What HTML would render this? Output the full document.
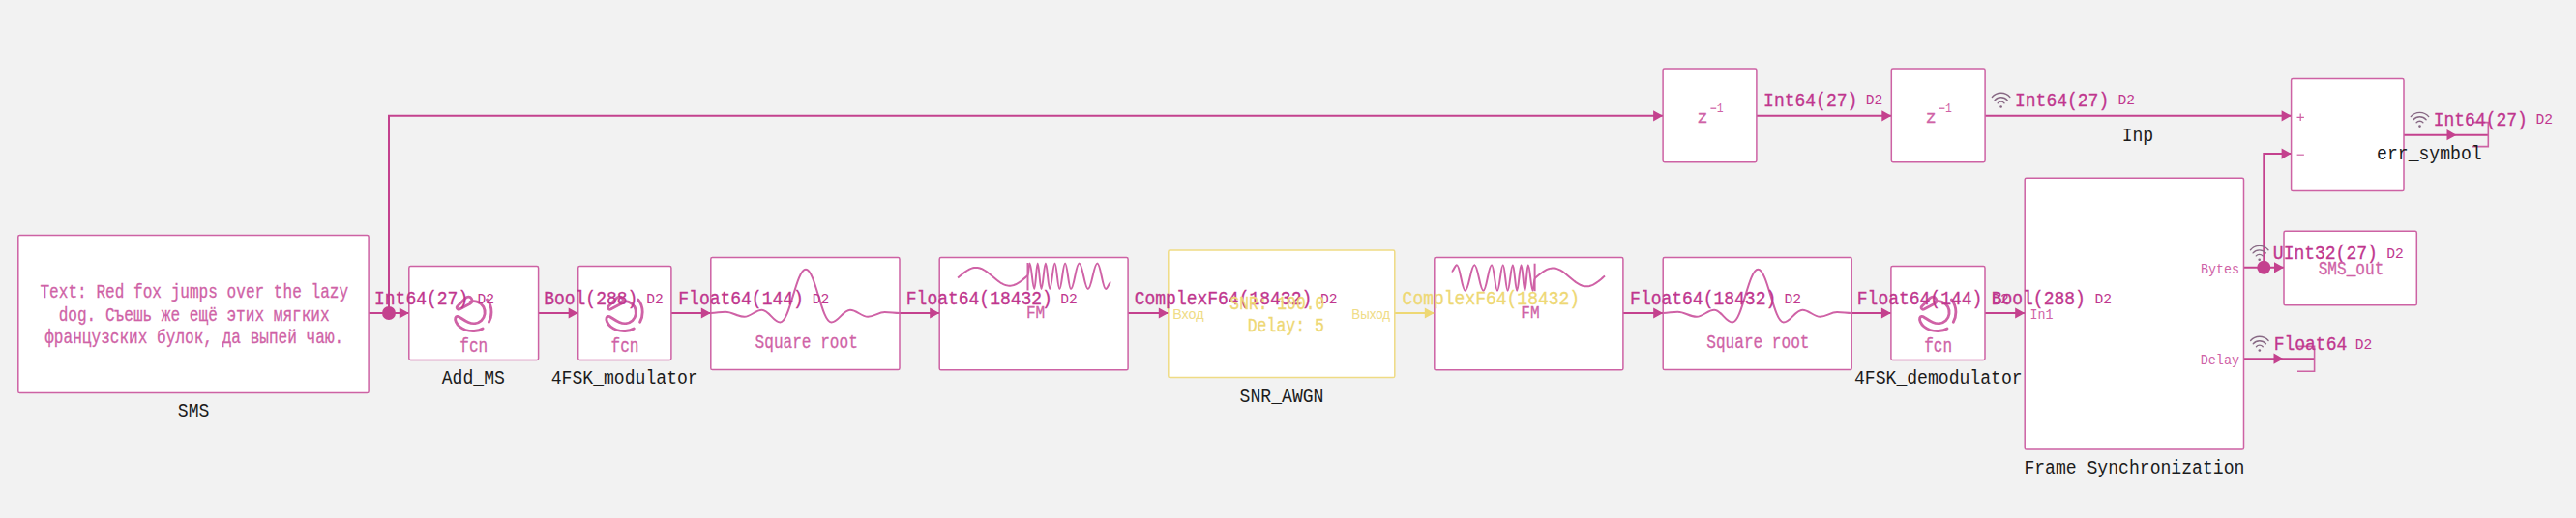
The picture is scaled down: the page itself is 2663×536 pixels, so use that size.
<!DOCTYPE html>
<html><head><meta charset="utf-8"><style>
html,body{margin:0;padding:0;background:#f2f2f2;overflow:hidden;}
svg{display:block;}
text{white-space:pre;}
</style></head><body>
<svg width="2663" height="536" viewBox="0 0 2663 536">
<rect x="0" y="0" width="2663" height="536" fill="#f2f2f2"/>
<path d="M381.00,324.00 L422.80,324.00" fill="none" stroke="#c4418e" stroke-width="2.0"/>
<path d="M556.60,324.00 L597.70,324.00" fill="none" stroke="#c4418e" stroke-width="2.0"/>
<path d="M693.90,324.00 L734.80,324.00" fill="none" stroke="#c4418e" stroke-width="2.0"/>
<path d="M930.00,324.00 L971.20,324.00" fill="none" stroke="#c4418e" stroke-width="2.0"/>
<path d="M1166.10,324.00 L1207.80,324.00" fill="none" stroke="#c4418e" stroke-width="2.0"/>
<path d="M1677.90,324.00 L1719.20,324.00" fill="none" stroke="#c4418e" stroke-width="2.0"/>
<path d="M1914.20,324.00 L1954.90,324.00" fill="none" stroke="#c4418e" stroke-width="2.0"/>
<path d="M2052.00,324.00 L2093.20,324.00" fill="none" stroke="#c4418e" stroke-width="2.0"/>
<path d="M1441.80,324.00 L1482.80,324.00" fill="none" stroke="#eed874" stroke-width="2.0"/>
<path d="M402.00,324.00 L402.00,119.80 L1719.10,119.80" fill="none" stroke="#c4418e" stroke-width="2.0"/>
<path d="M1815.90,119.80 L1955.30,119.80" fill="none" stroke="#c4418e" stroke-width="2.0"/>
<path d="M2052.10,119.80 L2368.60,119.80" fill="none" stroke="#c4418e" stroke-width="2.0"/>
<path d="M2319.50,276.80 L2361.00,276.80" fill="none" stroke="#c4418e" stroke-width="2.0"/>
<path d="M2340.30,276.80 L2340.30,159.10 L2368.60,159.10" fill="none" stroke="#c4418e" stroke-width="2.0"/>
<path d="M2319.50,371.20 L2392.60,371.20" fill="none" stroke="#c4418e" stroke-width="2.0"/>
<path d="M2375.00,358.40 L2392.60,358.40 L2392.60,384.30 L2375.00,384.30" fill="none" stroke="#cd62a4" stroke-width="1.6"/>
<path d="M2485.00,139.70 L2572.60,139.70" fill="none" stroke="#c4418e" stroke-width="2.0"/>
<path d="M2557.00,126.60 L2572.30,126.60 L2572.30,151.60 L2555.00,151.60" fill="none" stroke="#cd62a4" stroke-width="1.6"/>
<rect x="18.80" y="243.40" width="362.30" height="163.10" rx="1.6" fill="#ffffff" stroke="#cd62a4" stroke-width="1.5"/>
<rect x="422.80" y="275.60" width="133.80" height="96.80" rx="1.6" fill="#ffffff" stroke="#cd62a4" stroke-width="1.5"/>
<rect x="597.70" y="275.60" width="96.20" height="96.80" rx="1.6" fill="#ffffff" stroke="#cd62a4" stroke-width="1.5"/>
<rect x="734.80" y="266.60" width="195.20" height="116.00" rx="1.6" fill="#ffffff" stroke="#cd62a4" stroke-width="1.5"/>
<rect x="971.20" y="266.60" width="194.90" height="116.20" rx="1.6" fill="#ffffff" stroke="#cd62a4" stroke-width="1.5"/>
<rect x="1207.80" y="259.10" width="234.00" height="131.40" rx="1.6" fill="#ffffff" stroke="#efdb84" stroke-width="1.5"/>
<rect x="1482.80" y="266.60" width="195.10" height="116.20" rx="1.6" fill="#ffffff" stroke="#cd62a4" stroke-width="1.5"/>
<rect x="1719.20" y="266.60" width="195.00" height="116.00" rx="1.6" fill="#ffffff" stroke="#cd62a4" stroke-width="1.5"/>
<rect x="1954.90" y="275.60" width="97.10" height="96.80" rx="1.6" fill="#ffffff" stroke="#cd62a4" stroke-width="1.5"/>
<rect x="2093.20" y="184.20" width="226.30" height="280.80" rx="1.6" fill="#ffffff" stroke="#cd62a4" stroke-width="1.5"/>
<rect x="1719.10" y="71.00" width="96.80" height="96.70" rx="1.6" fill="#ffffff" stroke="#cd62a4" stroke-width="1.5"/>
<rect x="1955.30" y="71.00" width="96.80" height="96.70" rx="1.6" fill="#ffffff" stroke="#cd62a4" stroke-width="1.5"/>
<rect x="2368.60" y="81.60" width="116.40" height="116.00" rx="1.6" fill="#ffffff" stroke="#cd62a4" stroke-width="1.5"/>
<rect x="2361.00" y="239.30" width="137.30" height="76.50" rx="1.6" fill="#ffffff" stroke="#cd62a4" stroke-width="1.5"/>
<path d="M422.80,324.00 L412.80,318.40 L412.80,329.60 Z" fill="#c4418e"/>
<path d="M597.70,324.00 L587.70,318.40 L587.70,329.60 Z" fill="#c4418e"/>
<path d="M734.80,324.00 L724.80,318.40 L724.80,329.60 Z" fill="#c4418e"/>
<path d="M971.20,324.00 L961.20,318.40 L961.20,329.60 Z" fill="#c4418e"/>
<path d="M1207.80,324.00 L1197.80,318.40 L1197.80,329.60 Z" fill="#c4418e"/>
<path d="M1719.20,324.00 L1709.20,318.40 L1709.20,329.60 Z" fill="#c4418e"/>
<path d="M1954.90,324.00 L1944.90,318.40 L1944.90,329.60 Z" fill="#c4418e"/>
<path d="M2093.20,324.00 L2083.20,318.40 L2083.20,329.60 Z" fill="#c4418e"/>
<path d="M1482.80,324.00 L1472.80,318.40 L1472.80,329.60 Z" fill="#eed874"/>
<path d="M1719.10,119.80 L1709.10,114.20 L1709.10,125.40 Z" fill="#c4418e"/>
<path d="M1955.30,119.80 L1945.30,114.20 L1945.30,125.40 Z" fill="#c4418e"/>
<path d="M2368.60,119.80 L2358.60,114.20 L2358.60,125.40 Z" fill="#c4418e"/>
<path d="M2361.00,276.80 L2351.00,271.20 L2351.00,282.40 Z" fill="#c4418e"/>
<path d="M2368.60,159.10 L2358.60,153.50 L2358.60,164.70 Z" fill="#c4418e"/>
<path d="M2360.50,371.20 L2350.50,365.60 L2350.50,376.80 Z" fill="#c4418e"/>
<path d="M2539.50,139.70 L2529.50,134.10 L2529.50,145.30 Z" fill="#c4418e"/>
<circle cx="402.00" cy="324.00" r="7" fill="#c4418e"/>
<circle cx="2340.30" cy="276.80" r="7" fill="#c4418e"/>
<g transform="translate(489.60,323.00)" fill="none" stroke="#cf62a6" stroke-width="2.85" stroke-linecap="round"><path d="M-14.52,-2.92 L-3.63,-8.64 A3.8,3.8 0 1 0 -8.10,-14.67 L-16.75,-5.94 A1.9,1.9 0 0 0 -14.52,-2.92 Z"/><path d="M-3.5,-10.6 C1,-12.5 7.5,-10.5 10.2,-5.5 C12.6,-1 12,5 8,8.8 C4.5,12 -1,12.5 -5.5,10.5 C-9,9 -12,6.8 -14.5,5.2 C-16.3,4 -18.2,4.2 -18.8,6 C-19.5,8 -18,12 -14.5,15 C-10.5,18.3 -5,19.7 0.5,19.5 C4.5,19.3 7.5,18.3 9.5,17"/><path d="M13.8,-13 C16.8,-9.5 18.4,-5 18.4,0 C18.4,3.8 17.5,7.3 15.8,10.3"/></g>
<g transform="translate(645.80,323.00)" fill="none" stroke="#cf62a6" stroke-width="2.85" stroke-linecap="round"><path d="M-14.52,-2.92 L-3.63,-8.64 A3.8,3.8 0 1 0 -8.10,-14.67 L-16.75,-5.94 A1.9,1.9 0 0 0 -14.52,-2.92 Z"/><path d="M-3.5,-10.6 C1,-12.5 7.5,-10.5 10.2,-5.5 C12.6,-1 12,5 8,8.8 C4.5,12 -1,12.5 -5.5,10.5 C-9,9 -12,6.8 -14.5,5.2 C-16.3,4 -18.2,4.2 -18.8,6 C-19.5,8 -18,12 -14.5,15 C-10.5,18.3 -5,19.7 0.5,19.5 C4.5,19.3 7.5,18.3 9.5,17"/><path d="M13.8,-13 C16.8,-9.5 18.4,-5 18.4,0 C18.4,3.8 17.5,7.3 15.8,10.3"/></g>
<g transform="translate(2003.50,323.00)" fill="none" stroke="#cf62a6" stroke-width="2.85" stroke-linecap="round"><path d="M-14.52,-2.92 L-3.63,-8.64 A3.8,3.8 0 1 0 -8.10,-14.67 L-16.75,-5.94 A1.9,1.9 0 0 0 -14.52,-2.92 Z"/><path d="M-3.5,-10.6 C1,-12.5 7.5,-10.5 10.2,-5.5 C12.6,-1 12,5 8,8.8 C4.5,12 -1,12.5 -5.5,10.5 C-9,9 -12,6.8 -14.5,5.2 C-16.3,4 -18.2,4.2 -18.8,6 C-19.5,8 -18,12 -14.5,15 C-10.5,18.3 -5,19.7 0.5,19.5 C4.5,19.3 7.5,18.3 9.5,17"/><path d="M13.8,-13 C16.8,-9.5 18.4,-5 18.4,0 C18.4,3.8 17.5,7.3 15.8,10.3"/></g>
<path d="M735.00,324.00 C740.66,324.00 744.24,322.70 749.90,322.70 C757.35,322.70 762.05,327.80 769.50,327.80 C776.42,327.80 780.78,320.70 787.70,320.70 C794.88,320.70 799.42,333.50 806.60,333.50 C816.63,333.50 822.97,278.80 833.00,278.80 C842.99,278.80 849.31,333.50 859.30,333.50 C866.75,333.50 871.45,320.70 878.90,320.70 C885.85,320.70 890.25,327.80 897.20,327.80 C903.85,327.80 908.05,323.00 914.70,323.00 C920.63,323.00 924.37,324.00 930.30,324.00" fill="none" stroke="#cf62a6" stroke-width="2"/>
<path d="M1719.40,324.00 C1725.06,324.00 1728.64,322.70 1734.30,322.70 C1741.75,322.70 1746.45,327.80 1753.90,327.80 C1760.82,327.80 1765.18,320.70 1772.10,320.70 C1779.28,320.70 1783.82,333.50 1791.00,333.50 C1801.03,333.50 1807.37,278.80 1817.40,278.80 C1827.39,278.80 1833.71,333.50 1843.70,333.50 C1851.15,333.50 1855.85,320.70 1863.30,320.70 C1870.25,320.70 1874.65,327.80 1881.60,327.80 C1888.25,327.80 1892.45,323.00 1899.10,323.00 C1905.03,323.00 1908.77,324.00 1914.70,324.00" fill="none" stroke="#cf62a6" stroke-width="2"/>
<path d="M990.10,287.61 L991.31,286.59 L992.51,285.57 L993.72,284.55 L994.93,283.55 L996.13,282.59 L997.34,281.67 L998.55,280.80 L999.75,280.01 L1000.96,279.28 L1002.17,278.64 L1003.37,278.09 L1004.58,277.64 L1005.79,277.29 L1006.99,277.05 L1008.20,276.92 L1009.41,276.91 L1010.61,277.00 L1011.82,277.20 L1013.03,277.52 L1014.23,277.94 L1015.44,278.45 L1016.65,279.06 L1017.85,279.76 L1019.06,280.54 L1020.27,281.38 L1021.47,282.28 L1022.68,283.23 L1023.89,284.22 L1025.09,285.23 L1026.30,286.26 L1027.51,287.28 L1028.71,288.30 L1029.92,289.29 L1031.13,290.24 L1032.33,291.15 L1033.54,292.00 L1034.75,292.78 L1035.95,293.48 L1037.16,294.10 L1038.37,294.63 L1039.57,295.05 L1040.78,295.37 L1041.99,295.59 L1043.19,295.69 L1044.40,295.68 L1045.61,295.56 L1046.81,295.33 L1048.02,294.99 L1049.23,294.55 L1050.43,294.01 L1051.64,293.37 L1052.85,292.66 L1054.05,291.86 L1055.26,291.00 L1056.47,290.09 L1057.67,289.13 L1058.88,288.13 L1060.09,287.12 L1061.29,286.09 L1062.50,285.07 L1062.50,285.07 C1063.26,285.07 1063.74,272.50 1064.50,272.50 C1066.32,272.50 1067.48,299.00 1069.30,299.00 C1070.59,299.00 1071.41,272.50 1072.70,272.50 C1074.14,272.50 1075.06,299.00 1076.50,299.00 C1078.17,299.00 1079.23,272.50 1080.90,272.50 C1082.53,272.50 1083.57,299.00 1085.20,299.00 C1087.21,299.00 1088.49,272.50 1090.50,272.50 C1092.32,272.50 1093.48,299.00 1095.30,299.00 C1097.50,299.00 1098.90,272.50 1101.10,272.50 C1103.34,272.50 1104.76,299.00 1107.00,299.00 C1110.27,299.00 1112.33,272.50 1115.60,272.50 C1119.10,272.50 1121.30,299.00 1124.80,299.00 C1128.45,299.00 1130.75,272.50 1134.40,272.50 C1137.71,272.50 1139.79,299.00 1143.10,299.00 C1145.11,299.00 1146.39,292.30 1148.40,292.30" fill="none" stroke="#cf62a6" stroke-width="2"/>
<path d="M1062.50,272 L1062.50,300.5" stroke="#cf62a6" stroke-width="2"/>
<path d="M1659.00,285.59 L1657.79,286.61 L1656.59,287.63 L1655.38,288.65 L1654.17,289.65 L1652.97,290.61 L1651.76,291.53 L1650.55,292.40 L1649.35,293.19 L1648.14,293.92 L1646.93,294.56 L1645.73,295.11 L1644.52,295.56 L1643.31,295.91 L1642.11,296.15 L1640.90,296.28 L1639.69,296.29 L1638.49,296.20 L1637.28,296.00 L1636.07,295.68 L1634.87,295.26 L1633.66,294.75 L1632.45,294.14 L1631.25,293.44 L1630.04,292.66 L1628.83,291.82 L1627.63,290.92 L1626.42,289.97 L1625.21,288.98 L1624.01,287.97 L1622.80,286.94 L1621.59,285.92 L1620.39,284.90 L1619.18,283.91 L1617.97,282.96 L1616.77,282.05 L1615.56,281.20 L1614.35,280.42 L1613.15,279.72 L1611.94,279.10 L1610.73,278.57 L1609.53,278.15 L1608.32,277.83 L1607.11,277.61 L1605.91,277.51 L1604.70,277.52 L1603.49,277.64 L1602.29,277.87 L1601.08,278.21 L1599.87,278.65 L1598.67,279.19 L1597.46,279.83 L1596.25,280.54 L1595.05,281.34 L1593.84,282.20 L1592.63,283.11 L1591.43,284.07 L1590.22,285.07 L1589.01,286.08 L1587.81,287.11 L1586.60,288.13 L1586.60,288.13 C1585.84,288.13 1585.36,300.70 1584.60,300.70 C1582.78,300.70 1581.62,274.20 1579.80,274.20 C1578.51,274.20 1577.69,300.70 1576.40,300.70 C1574.96,300.70 1574.04,274.20 1572.60,274.20 C1570.93,274.20 1569.87,300.70 1568.20,300.70 C1566.57,300.70 1565.53,274.20 1563.90,274.20 C1561.89,274.20 1560.61,300.70 1558.60,300.70 C1556.78,300.70 1555.62,274.20 1553.80,274.20 C1551.60,274.20 1550.20,300.70 1548.00,300.70 C1545.76,300.70 1544.34,274.20 1542.10,274.20 C1538.83,274.20 1536.77,300.70 1533.50,300.70 C1530.00,300.70 1527.80,274.20 1524.30,274.20 C1520.65,274.20 1518.35,300.70 1514.70,300.70 C1511.39,300.70 1509.31,274.20 1506.00,274.20 C1503.99,274.20 1502.71,280.90 1500.70,280.90" fill="none" stroke="#cf62a6" stroke-width="2"/>
<path d="M1586.60,272.7 L1586.60,301.2" stroke="#cf62a6" stroke-width="2"/>
<text transform="translate(387.02,314.60) scale(1,1.0880)" font-size="18.000" fill="#c0368e" stroke="#c0368e" stroke-width="0.3" font-family='"Liberation Mono", monospace'>Int64(27)</text>
<text transform="translate(493.45,313.60) scale(1,1.0190)" font-size="14.600" fill="#c0368e" font-family='"Liberation Mono", monospace'>D2</text>
<text transform="translate(562.18,314.60) scale(1,1.0880)" font-size="18.000" fill="#c0368e" stroke="#c0368e" stroke-width="0.3" font-family='"Liberation Mono", monospace'>Bool(288)</text>
<text transform="translate(668.15,313.60) scale(1,1.0190)" font-size="14.600" fill="#c0368e" font-family='"Liberation Mono", monospace'>D2</text>
<text transform="translate(701.29,314.60) scale(1,1.0880)" font-size="18.000" fill="#c0368e" stroke="#c0368e" stroke-width="0.3" font-family='"Liberation Mono", monospace'>Float64(144)</text>
<text transform="translate(839.85,313.60) scale(1,1.0190)" font-size="14.600" fill="#c0368e" font-family='"Liberation Mono", monospace'>D2</text>
<text transform="translate(936.79,314.60) scale(1,1.0880)" font-size="18.000" fill="#c0368e" stroke="#c0368e" stroke-width="0.3" font-family='"Liberation Mono", monospace'>Float64(18432)</text>
<text transform="translate(1096.15,313.60) scale(1,1.0190)" font-size="14.600" fill="#c0368e" font-family='"Liberation Mono", monospace'>D2</text>
<text transform="translate(1172.71,314.80) scale(1,1.0880)" font-size="18.000" fill="#c0368e" stroke="#c0368e" stroke-width="0.3" font-family='"Liberation Mono", monospace'>ComplexF64(18432)</text>
<text transform="translate(1364.95,313.60) scale(1,1.0190)" font-size="14.600" fill="#c0368e" font-family='"Liberation Mono", monospace'>D2</text>
<text transform="translate(1449.61,314.80) scale(1,1.0880)" font-size="18.000" fill="#eed874" stroke="#eed874" stroke-width="0.3" font-family='"Liberation Mono", monospace'>ComplexF64(18432)</text>
<text transform="translate(1685.09,314.60) scale(1,1.0880)" font-size="18.000" fill="#c0368e" stroke="#c0368e" stroke-width="0.3" font-family='"Liberation Mono", monospace'>Float64(18432)</text>
<text transform="translate(1844.45,313.60) scale(1,1.0190)" font-size="14.600" fill="#c0368e" font-family='"Liberation Mono", monospace'>D2</text>
<text transform="translate(1919.79,314.60) scale(1,1.0880)" font-size="18.000" fill="#c0368e" stroke="#c0368e" stroke-width="0.3" font-family='"Liberation Mono", monospace'>Float64(144)</text>
<text transform="translate(2059.35,313.60) scale(1,1.0190)" font-size="14.600" fill="#c0368e" font-family='"Liberation Mono", monospace'>D2</text>
<text transform="translate(2058.68,314.60) scale(1,1.0880)" font-size="18.000" fill="#c0368e" stroke="#c0368e" stroke-width="0.3" font-family='"Liberation Mono", monospace'>Bool(288)</text>
<text transform="translate(2165.55,313.60) scale(1,1.0190)" font-size="14.600" fill="#c0368e" font-family='"Liberation Mono", monospace'>D2</text>
<text transform="translate(1823.12,109.80) scale(1,1.0880)" font-size="18.000" fill="#c0368e" stroke="#c0368e" stroke-width="0.3" font-family='"Liberation Mono", monospace'>Int64(27)</text>
<text transform="translate(1928.65,107.90) scale(1,1.0190)" font-size="14.600" fill="#c0368e" font-family='"Liberation Mono", monospace'>D2</text>
<text transform="translate(2083.02,109.60) scale(1,1.0880)" font-size="18.000" fill="#c0368e" stroke="#c0368e" stroke-width="0.3" font-family='"Liberation Mono", monospace'>Int64(27)</text>
<text transform="translate(2189.45,107.90) scale(1,1.0190)" font-size="14.600" fill="#c0368e" font-family='"Liberation Mono", monospace'>D2</text>
<text transform="translate(2515.72,130.00) scale(1,1.0880)" font-size="18.000" fill="#c0368e" stroke="#c0368e" stroke-width="0.3" font-family='"Liberation Mono", monospace'>Int64(27)</text>
<text transform="translate(2621.45,128.10) scale(1,1.0190)" font-size="14.600" fill="#c0368e" font-family='"Liberation Mono", monospace'>D2</text>
<text transform="translate(2349.85,267.80) scale(1,1.0880)" font-size="18.000" fill="#c0368e" stroke="#c0368e" stroke-width="0.3" font-family='"Liberation Mono", monospace'>UInt32(27)</text>
<text transform="translate(2467.35,266.50) scale(1,1.0190)" font-size="14.600" fill="#c0368e" font-family='"Liberation Mono", monospace'>D2</text>
<text transform="translate(2350.69,361.80) scale(1,1.0880)" font-size="18.000" fill="#c0368e" stroke="#c0368e" stroke-width="0.3" font-family='"Liberation Mono", monospace'>Float64</text>
<text transform="translate(2434.65,360.50) scale(1,1.0190)" font-size="14.600" fill="#c0368e" font-family='"Liberation Mono", monospace'>D2</text>
<path d="M2065.20,106.70 A4.60,4.60 0 0 1 2072.00,106.70 M2062.00,103.70 A8.76,8.76 0 0 1 2075.20,103.70 M2059.35,100.50 A12.10,12.10 0 0 1 2077.85,100.50" fill="none" stroke="#876884" stroke-width="1.35" stroke-linecap="round"/>
<circle cx="2068.60" cy="110.50" r="1.3" fill="#876884"/>
<path d="M2498.10,126.80 A4.60,4.60 0 0 1 2504.90,126.80 M2494.90,123.80 A8.76,8.76 0 0 1 2508.10,123.80 M2492.25,120.60 A12.10,12.10 0 0 1 2510.75,120.60" fill="none" stroke="#876884" stroke-width="1.35" stroke-linecap="round"/>
<circle cx="2501.50" cy="130.60" r="1.3" fill="#876884"/>
<path d="M2332.30,264.90 A4.60,4.60 0 0 1 2339.10,264.90 M2329.10,261.90 A8.76,8.76 0 0 1 2342.30,261.90 M2326.45,258.70 A12.10,12.10 0 0 1 2344.95,258.70" fill="none" stroke="#876884" stroke-width="1.35" stroke-linecap="round"/>
<circle cx="2335.70" cy="268.70" r="1.3" fill="#876884"/>
<path d="M2332.45,358.70 A4.60,4.60 0 0 1 2339.25,358.70 M2329.25,355.70 A8.76,8.76 0 0 1 2342.45,355.70 M2326.60,352.50 A12.10,12.10 0 0 1 2345.10,352.50" fill="none" stroke="#876884" stroke-width="1.35" stroke-linecap="round"/>
<circle cx="2335.85" cy="362.50" r="1.3" fill="#876884"/>
<text transform="translate(183.80,430.90) scale(1,1.0736)" font-size="18.100" fill="#1b1b1b" font-family='"Liberation Mono", monospace'>SMS</text>
<text transform="translate(456.76,397.10) scale(1,1.0736)" font-size="18.100" fill="#1b1b1b" font-family='"Liberation Mono", monospace'>Add_MS</text>
<text transform="translate(569.73,396.80) scale(1,1.0736)" font-size="18.100" fill="#1b1b1b" font-family='"Liberation Mono", monospace'>4FSK_modulator</text>
<text transform="translate(1281.62,415.50) scale(1,1.0736)" font-size="18.100" fill="#1b1b1b" font-family='"Liberation Mono", monospace'>SNR_AWGN</text>
<text transform="translate(1916.96,396.90) scale(1,1.0736)" font-size="18.100" fill="#1b1b1b" font-family='"Liberation Mono", monospace'>4FSK_demodulator</text>
<text transform="translate(2092.39,490.00) scale(1,1.0736)" font-size="18.100" fill="#1b1b1b" font-family='"Liberation Mono", monospace'>Frame_Synchronization</text>
<text transform="translate(2193.63,146.10) scale(1,1.0736)" font-size="18.100" fill="#1b1b1b" font-family='"Liberation Mono", monospace'>Inp</text>
<text transform="translate(2457.10,164.90) scale(1,1.0736)" font-size="18.100" fill="#1b1b1b" font-family='"Liberation Mono", monospace'>err_symbol</text>
<text transform="translate(41.45,308.20) scale(1,1.2258)" font-size="16.100" fill="#cf62a6" stroke="#cf62a6" stroke-width="0.25" font-family='"Liberation Mono", monospace'>Text: Red fox jumps over the lazy</text>
<text transform="translate(60.64,331.80) scale(1,1.2258)" font-size="16.100" fill="#cf62a6" stroke="#cf62a6" stroke-width="0.25" font-family='"Liberation Mono", monospace'>dog. Съешь же ещё этих мягких</text>
<text transform="translate(46.20,355.20) scale(1,1.2258)" font-size="16.100" fill="#cf62a6" stroke="#cf62a6" stroke-width="0.25" font-family='"Liberation Mono", monospace'>французских булок, да выпей чаю.</text>
<text transform="translate(475.27,364.00) scale(1,1.2258)" font-size="16.100" fill="#cf62a6" stroke="#cf62a6" stroke-width="0.25" font-family='"Liberation Mono", monospace'>fcn</text>
<text transform="translate(631.47,364.00) scale(1,1.2258)" font-size="16.100" fill="#cf62a6" stroke="#cf62a6" stroke-width="0.25" font-family='"Liberation Mono", monospace'>fcn</text>
<text transform="translate(1989.17,364.00) scale(1,1.2258)" font-size="16.100" fill="#cf62a6" stroke="#cf62a6" stroke-width="0.25" font-family='"Liberation Mono", monospace'>fcn</text>
<text transform="translate(780.58,360.00) scale(1,1.2258)" font-size="16.100" fill="#cf62a6" stroke="#cf62a6" stroke-width="0.25" font-family='"Liberation Mono", monospace'>Square root</text>
<text transform="translate(1764.28,360.00) scale(1,1.2258)" font-size="16.100" fill="#cf62a6" stroke="#cf62a6" stroke-width="0.25" font-family='"Liberation Mono", monospace'>Square root</text>
<text transform="translate(1060.97,329.20) scale(1,1.1127)" font-size="16.100" fill="#cf62a6" stroke="#cf62a6" stroke-width="0.25" font-family='"Liberation Mono", monospace'>FM</text>
<text transform="translate(1572.27,329.20) scale(1,1.1127)" font-size="16.100" fill="#cf62a6" stroke="#cf62a6" stroke-width="0.25" font-family='"Liberation Mono", monospace'>FM</text>
<text transform="translate(2396.71,284.40) scale(1,1.2070)" font-size="16.100" fill="#cf62a6" stroke="#cf62a6" stroke-width="0.25" font-family='"Liberation Mono", monospace'>SMS_out</text>
<text transform="translate(1271.37,320.10) scale(1,1.1907)" font-size="16.320" fill="#eed874" stroke="#eed874" stroke-width="0.3" font-family='"Liberation Mono", monospace'>SNR: 100.0</text>
<text transform="translate(1289.69,343.00) scale(1,1.1756)" font-size="16.530" fill="#eed874" stroke="#eed874" stroke-width="0.3" font-family='"Liberation Mono", monospace'>Delay: 5</text>
<text transform="translate(1212.23,329.80) scale(1,0.9849)" font-size="14.315" fill="#efdc86" font-family='"Liberation Sans", sans-serif'>Вход</text>
<text transform="translate(1397.31,329.80) scale(1,1.0633)" font-size="13.259" fill="#efdc86" font-family='"Liberation Sans", sans-serif'>Выход</text>
<text transform="translate(2098.38,329.60) scale(1,1.0449)" font-size="13.367" fill="#cf62a6" font-family='"Liberation Mono", monospace'>In1</text>
<text transform="translate(2274.94,282.50) scale(1,1.0434)" font-size="13.386" fill="#cf62a6" font-family='"Liberation Mono", monospace'>Bytes</text>
<text transform="translate(2274.63,376.60) scale(1,1.0370)" font-size="13.469" fill="#cf62a6" font-family='"Liberation Mono", monospace'>Delay</text>
<path d="M2374.5,121.3 L2381.9,121.3 M2378.2,117.6 L2378.2,125" stroke="#cf62a6" stroke-width="1.25"/>
<path d="M2374.6,160.2 L2381.9,160.2" stroke="#cf62a6" stroke-width="1.2"/>
<text transform="translate(1754.49,127.00) scale(1,0.9868)" font-size="18.234" fill="#cf62a6" stroke="#cf62a6" stroke-width="0.35" font-family='"Liberation Mono", monospace'>z</text>
<path d="M1768.40,112.2 L1774.20,112.2" stroke="#cf62a6" stroke-width="1.3"/>
<text transform="translate(1774.68,116.00) scale(1,1.1453)" font-size="11.400" fill="#cf62a6" font-family='"Liberation Mono", monospace'>1</text>
<text transform="translate(1990.69,127.00) scale(1,0.9868)" font-size="18.234" fill="#cf62a6" stroke="#cf62a6" stroke-width="0.35" font-family='"Liberation Mono", monospace'>z</text>
<path d="M2004.60,112.2 L2010.40,112.2" stroke="#cf62a6" stroke-width="1.3"/>
<text transform="translate(2010.88,116.00) scale(1,1.1453)" font-size="11.400" fill="#cf62a6" font-family='"Liberation Mono", monospace'>1</text>
</svg>
</body></html>
